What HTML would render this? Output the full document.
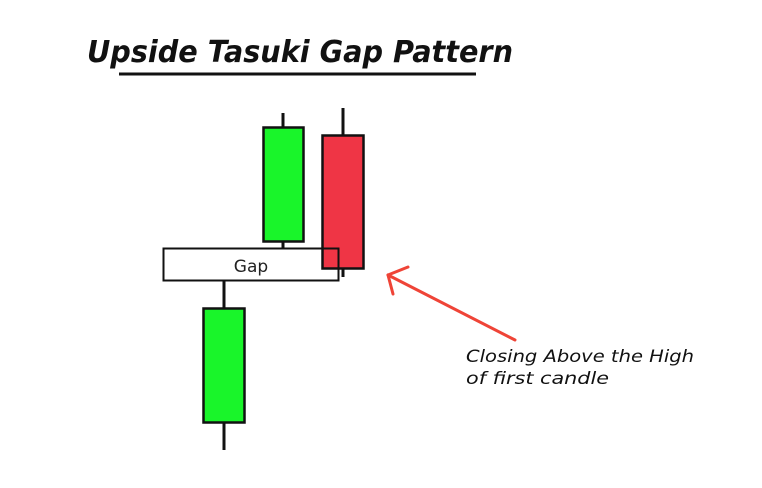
<!DOCTYPE html>
<html><head><meta charset="utf-8"><style>
html,body{margin:0;padding:0;background:#fff;width:762px;height:488px;overflow:hidden}
</style></head><body>
<svg width="762" height="488" viewBox="0 0 762 488" xmlns="http://www.w3.org/2000/svg">
<rect width="762" height="488" fill="#fff"/>
<text x="87" y="62" font-family="DejaVu Sans, Liberation Sans, sans-serif" font-weight="bold" font-style="italic" font-size="30" textLength="426" lengthAdjust="spacingAndGlyphs" fill="#111">Upside Tasuki Gap Pattern</text>
<line x1="119" y1="74" x2="476" y2="74" stroke="#111" stroke-width="3"/>
<line x1="224" y1="281" x2="224" y2="450" stroke="#111" stroke-width="3"/>
<rect x="203.5" y="308.5" width="41" height="114" fill="#19f52a" stroke="#111" stroke-width="2.5"/>
<line x1="283" y1="113" x2="283" y2="248" stroke="#111" stroke-width="3"/>
<rect x="263.5" y="127.5" width="40" height="114" fill="#19f52a" stroke="#111" stroke-width="2.5"/>
<line x1="343" y1="108" x2="343" y2="277" stroke="#111" stroke-width="3"/>
<rect x="322.5" y="135.5" width="41" height="133" fill="#ef3545" stroke="#111" stroke-width="2.5"/>
<rect x="163.5" y="248.5" width="175" height="32" fill="none" stroke="#111" stroke-width="2"/>
<text x="251" y="272" text-anchor="middle" font-family="DejaVu Sans, Liberation Sans, sans-serif" font-size="17" fill="#222">Gap</text>
<g stroke="#ef4437" stroke-width="3" fill="none" stroke-linecap="round">
<line x1="515" y1="340" x2="388" y2="275"/>
<line x1="388" y1="275" x2="408" y2="267"/>
<line x1="388" y1="275" x2="393" y2="294"/>
</g>
<g font-family="DejaVu Sans, Liberation Sans, sans-serif" font-style="italic" font-size="17" fill="#111">
<text x="466" y="362" textLength="228" lengthAdjust="spacingAndGlyphs">Closing Above the High</text>
<text x="466" y="384" textLength="143" lengthAdjust="spacingAndGlyphs">of first candle</text>
</g>
</svg>
</body></html>
